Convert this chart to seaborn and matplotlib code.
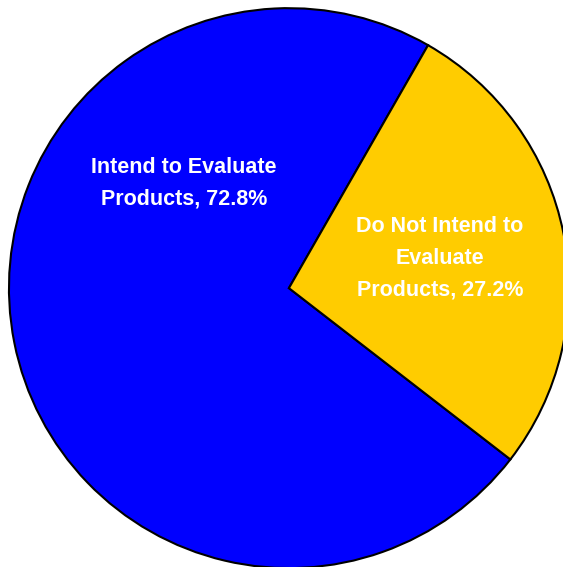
import matplotlib
matplotlib.use("Agg")
import matplotlib.pyplot as plt
import seaborn as sns
import numpy as np

categories = ["Intend to Evaluate\nProducts, 72.8%", "Do Not Intend to\nEvaluate\nProducts, 27.2%"]
values = [72.8, 27.2]
colors = ["#0000FF", "#FFCC00"]

sns.set_style("white")
plt.rcParams['font.family'] = ['Liberation Sans', 'DejaVu Sans']

fig = plt.figure(figsize=(5.63, 5.67), dpi=100)
ax = fig.add_axes([0, 0, 1, 1])
wedges, _ = ax.pie(values, colors=colors, startangle=60.2, counterclock=True,
                   wedgeprops=dict(edgecolor="black", linewidth=1.5),
                   radius=1.0)
ax.set_xlim(-1.032, 0.979)
ax.set_ylim(-0.996, 1.029)
ax.set_aspect('equal')
ax.axis('off')

# label positions
positions = [(-0.375, 0.375), None]
for i, (w, lab) in enumerate(zip(wedges, categories)):
    if positions[i] is None:
        ang = np.deg2rad((w.theta1 + w.theta2) / 2)
        pos = (0.55 * np.cos(ang), 0.55 * np.sin(ang))
    else:
        pos = positions[i]
    ax.text(pos[0], pos[1], lab, ha='center', va='center', color='white',
            fontsize=15.5, fontweight='bold', linespacing=1.68)

fig.savefig("out.png", dpi=100)
